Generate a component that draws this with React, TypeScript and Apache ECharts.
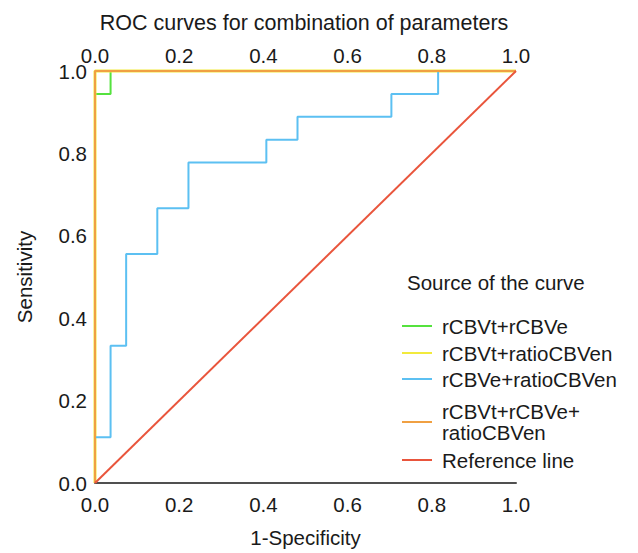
import React, { useEffect, useRef } from "react";
import * as echarts from "echarts";

const seriesNames = [
  "rCBVt+rCBVe",
  "rCBVt+ratioCBVen",
  "rCBVe+ratioCBVen",
  "rCBVt+rCBVe+\nratioCBVen",
  "Reference line",
];
const seriesColors = ["#55e23e", "#f2ea3c", "#5cc0f2", "#f0a042", "#e9553c"];

// 1-Specificity (x) and Sensitivity (y) vertices of each curve
const greenFpr = [0, 0, 0.037, 0.037, 1];
const greenTpr = [0, 0.944, 0.944, 1, 1];
const yellowFpr = [0, 0, 1];
const yellowTpr = [0, 1, 1];
const blueFpr = [0, 0, 0.037, 0.037, 0.074, 0.074, 0.148, 0.148, 0.222, 0.222, 0.407, 0.407, 0.481, 0.481, 0.704, 0.704, 0.815, 0.815, 1];
const blueTpr = [0, 0.111, 0.111, 0.333, 0.333, 0.556, 0.556, 0.667, 0.667, 0.778, 0.778, 0.833, 0.833, 0.889, 0.889, 0.944, 0.944, 1, 1];
const orangeFpr = [0, 0, 1];
const orangeTpr = [0, 1, 1];
const refFpr = [0, 1];
const refTpr = [0, 1];

const tickValues = [0, 0.2, 0.4, 0.6, 0.8, 1.0];

const curves = [
  [greenFpr, greenTpr],
  [yellowFpr, yellowTpr],
  [blueFpr, blueTpr],
  [orangeFpr, orangeTpr],
  [refFpr, refTpr],
];

// legend item vertical centres
const legendCenters = [326, 353, 379, 422, 460];

const FONT = "'Liberation Sans', Arial, Helvetica, sans-serif";

export default function App() {
  const ref = useRef<HTMLDivElement>(null);
  useEffect(() => {
    document.body.style.margin = "0";
    if (!ref.current) return;
    const chart = echarts.init(ref.current, null, { renderer: "svg" });
    const fmt = (v: number) => v.toFixed(1);
    const labelStyle = { color: "#1a1a1a", fontSize: 20.5, fontFamily: FONT };
    const series = curves.map(([xs, ys], i) => ({
      name: seriesNames[i],
      type: "line",
      xAxisIndex: 0,
      yAxisIndex: 0,
      data: xs.map((x, k) => [x, ys[k]]),
      showSymbol: false,
      symbol: "none",
      clip: false,
      color: seriesColors[i],
      lineStyle: { color: seriesColors[i], width: i === 1 ? 3 : 2 },
      z: 2 + i,
    }));
    const legends = seriesNames.map((n, i) => {
      const lines = n.split("\n").length;
      const h = lines * 21;
      return {
        data: [n],
        left: 402,
        top: legendCenters[i] - h / 2,
        padding: 0,
        orient: "vertical",
        icon: "rect",
        itemWidth: 30,
        itemHeight: 2,
        selectedMode: false,
        textStyle: {
          color: "#1a1a1a",
          fontSize: 20.5,
          lineHeight: 21,
          fontFamily: FONT,
          padding: [0, 0, 0, 5],
        },
      };
    });
    chart.setOption({
      animation: false,
      backgroundColor: "#ffffff",
      title: [
        {
          text: "ROC curves for combination of parameters",
          left: 304,
          textAlign: "center",
          top: 12,
          padding: 0,
          textStyle: { color: "#1a1a1a", fontSize: 21.5, fontWeight: "normal", fontFamily: FONT },
        },
        {
          text: "Source of the curve",
          left: 407,
          top: 272,
          padding: 0,
          textStyle: { color: "#1a1a1a", fontSize: 20.5, fontWeight: "normal", fontFamily: FONT },
        },
      ],
      legend: legends,
      grid: { left: 95, right: 122, top: 71, bottom: 60, containLabel: false },
      xAxis: [
        {
          type: "value",
          position: "bottom",
          min: 0,
          max: 1,
          interval: 0.2,
          name: "1-Specificity",
          nameLocation: "middle",
          nameGap: 44,
          nameTextStyle: labelStyle,
          axisLine: { show: true, lineStyle: { color: "#505050", width: 2 } },
          axisTick: { show: false },
          splitLine: { show: false },
          axisLabel: { ...labelStyle, margin: 11, formatter: fmt, showMinLabel: true, showMaxLabel: true },
        },
        {
          type: "value",
          position: "top",
          min: 0,
          max: 1,
          interval: 0.2,
          axisLine: { show: false },
          axisTick: { show: false },
          splitLine: { show: false },
          axisLabel: { ...labelStyle, margin: 5, formatter: fmt, showMinLabel: true, showMaxLabel: true },
        },
      ],
      yAxis: {
        type: "value",
        min: 0,
        max: 1,
        interval: 0.2,
        name: "Sensitivity",
        nameLocation: "middle",
        nameGap: 60,
        nameTextStyle: labelStyle,
        axisLine: { show: false },
        axisTick: { show: false },
        splitLine: { show: false },
        axisLabel: { ...labelStyle, margin: 8, formatter: fmt, showMinLabel: true, showMaxLabel: true },
      },
      series,
    });
    return () => chart.dispose();
  }, []);
  return <div ref={ref} style={{ width: 638, height: 553 }} />;
}

export { tickValues };
